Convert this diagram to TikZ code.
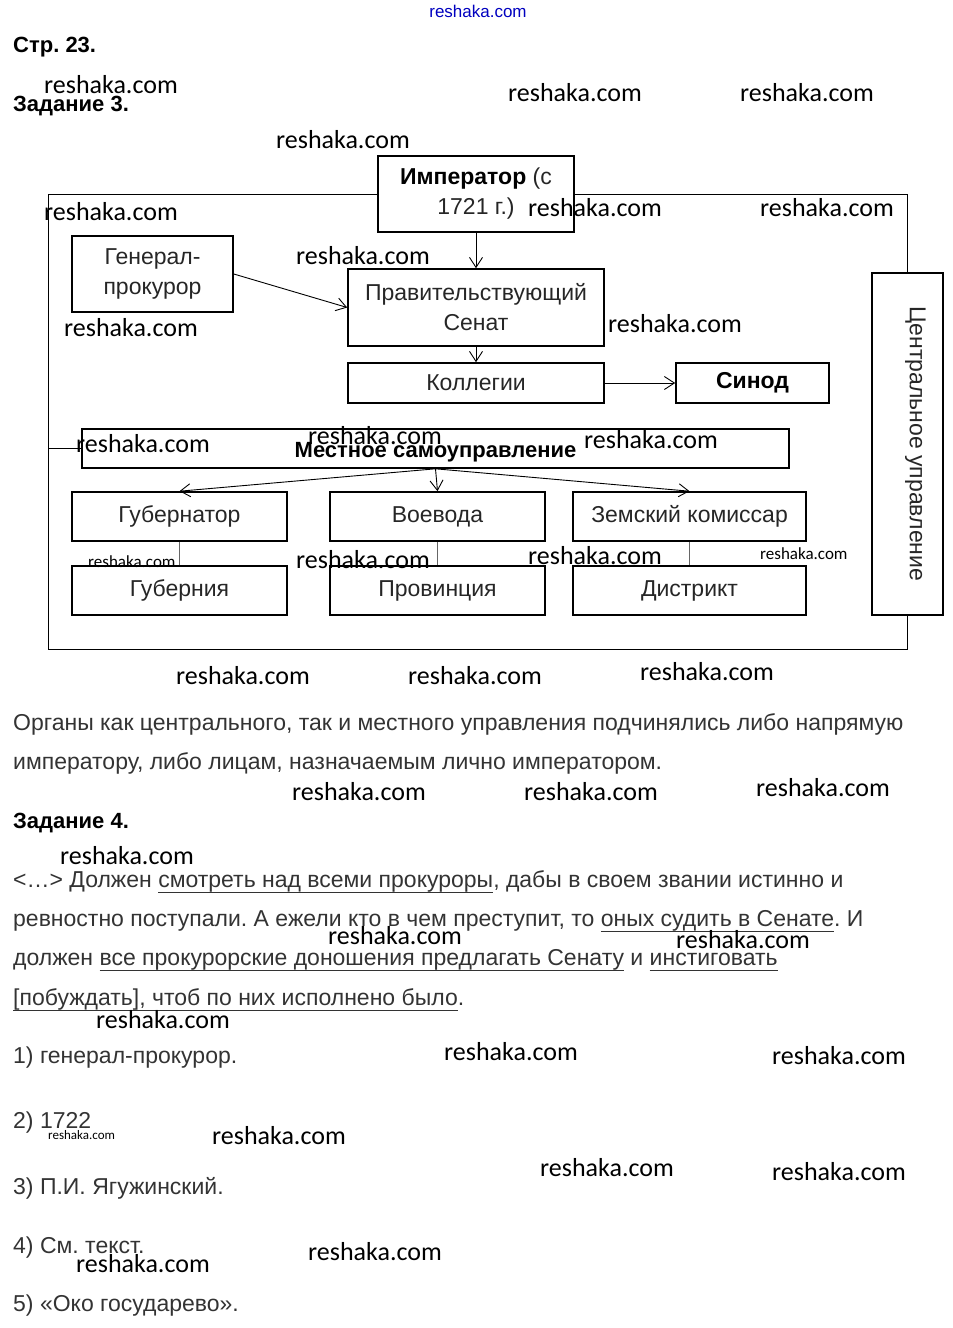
\documentclass[tikz,border=0pt]{standalone}
\usepackage{fontspec}
\setmainfont{Liberation Sans}
\newfontfamily\wmfont{Carlito}
\newcommand\ulined[1]{\setbox0\hbox{#1}\rlap{\rule[-6pt]{\wd0}{1.5pt}}\box0{}}
\frenchspacing
\usetikzlibrary{arrows.meta}

\begin{document}
\begin{tikzpicture}[x=1pt, y=-1pt,
    box/.style={draw=black, line width=1.6pt, inner sep=0pt, align=center, text=black!85, font=\fontsize{23}{30}\selectfont},
    link/.style={-{Straight Barb[length=10pt,width=13pt]}, line width=0.9pt},
    tie/.style={line width=0.9pt, draw=black!60},
    frame/.style={line width=0.9pt},
    body/.style={anchor=base west, inner sep=0pt, text=black!80, font=\fontsize{23}{26}\selectfont},
    head/.style={anchor=base west, inner sep=0pt, font=\bfseries\fontsize{22}{26}\selectfont},
    wm/.style={anchor=base west, inner sep=0pt, font=\wmfont\fontsize{26}{26}\selectfont}]
    \useasboundingbox (0,0) rectangle (953,1328);

    % Headings
    \node[anchor=base, inner sep=0pt, text=blue!75!black, font=\fontsize{17}{17}\selectfont] (site) at (478,17) {reshaka.com};
    \node[head] (page) at (13,52) {Стр. 23.};
    \node[head] (task3) at (13,111) {Задание 3.};

    % Nodes
    \node[box, minimum width=196pt, minimum height=76pt] (emp) at (476,194) {{\color{black}\bfseries Император} (с\\1721 г.)};
    \node[box, minimum width=161pt, minimum height=76pt] (gen) at (152.5,274) {Генерал-\\прокурор};
    \node[box, minimum width=256pt, minimum height=77pt] (sen) at (476,307.5) {Правительствующий\\Сенат};
    \node[box, minimum width=256pt, minimum height=40pt] (kol) at (476,383) {Коллегии};
    \node[box, minimum width=153pt, minimum height=40pt, text=black, font=\bfseries\fontsize{23}{30}\selectfont] (sin) at (752.5,383) {Синод};
    \node[box, minimum width=707pt, minimum height=39pt, text=black, font=\bfseries\fontsize{22}{30}\selectfont] (mest) at (435.5,448.5) {\raisebox{-4pt}[\height][\depth]{Местное самоуправление}};
    \node[box, minimum width=215pt, minimum height=49pt] (gub) at (179.5,516.5) {Губернатор};
    \node[box, minimum width=215pt, minimum height=49pt] (voe) at (437.5,516.5) {Воевода};
    \node[box, minimum width=233pt, minimum height=49pt] (zem) at (689.5,516.5) {Земский комиссар};
    \node[box, minimum width=215pt, minimum height=49pt] (gbr) at (179.5,590.5) {Губерния};
    \node[box, minimum width=215pt, minimum height=49pt] (prv) at (437.5,590.5) {Провинция};
    \node[box, minimum width=233pt, minimum height=49pt] (dis) at (689.5,590.5) {Дистрикт};
    \node[box, minimum width=71pt, minimum height=342pt] (cen) at (907.5,444) {\hspace*{16pt}\rotatebox{-90}{Центральное управление}};
    \coordinate (fbl) at (48,649);
    \coordinate (fl) at (48,448.5);

    % Edges
    \draw[frame] (emp.west) -| (fbl) -| (cen.south);
    \draw[frame] (emp.east) -| (cen.north);
    \draw[frame] (fl) -- (mest.west);
    \draw[link] (emp.south) -- (sen.north);
    \draw[link] (gen.east) -- (sen.west);
    \draw[link] (sen.south) -- (kol.north);
    \draw[link] (kol.east) -- (sin.west);
    \draw[link] (mest.south) -- (gub.north);
    \draw[link] (mest.south) -- (voe.north);
    \draw[link] (mest.south) -- (zem.north);
    \draw[tie] (gub.south) -- (gbr.north);
    \draw[tie] (voe.south) -- (prv.north);
    \draw[tie] (zem.south) -- (dis.north);

    % Text below
    \node[body] (t1) at (13,730) {Органы как центрального, так и местного управления подчинялись либо напрямую};
    \node[body] (t2) at (13,769) {императору, либо лицам, назначаемым лично императором.};
    \node[head] (task4) at (13,828) {Задание 4.};
    \node[body] (q1) at (13,887) {<…> Должен \ulined{смотреть над всеми прокуроры}, дабы в своем звании истинно и};
    \node[body] (q2) at (13,926) {ревностно поступали. А ежели кто в чем преступит, то \ulined{оных судить в Сенате}. И};
    \node[body] (q3) at (13,965) {должен \ulined{все прокурорские доношения предлагать Сенату} и \ulined{инстиговать}};
    \node[body] (q4) at (13,1005) {\ulined{[побуждать], чтоб по них исполнено было}.};
    \node[body] (a1) at (13,1063) {1) генерал-прокурор.};
    \node[body] (a2) at (13,1128) {2) 1722};
    \node[body] (a3) at (13,1194) {3) П.И. Ягужинский.};
    \node[body] (a4) at (13,1253) {4) См. текст.};
    \node[body] (a5) at (13,1311) {5) «Око государево».};

    % Watermarks
    \foreach \px/\py [count=\i] in {44/93, 508/101, 740/101, 276/148, 44/220, 528/216, 760/216,
        296/264, 64/336, 608/332, 76/452, 308/444, 584/448, 296/568, 528/564,
        176/684, 408/684, 640/680, 292/800, 524/800, 756/796, 60/864, 328/944,
        676/948, 96/1028, 444/1060, 772/1064, 212/1144, 540/1176, 772/1180,
        76/1272, 308/1260}
        \node[wm] (wm\i) at (\px,\py) {reshaka.com};
    \node[wm, font=\wmfont\fontsize{17}{17}\selectfont] (ws1) at (88,567) {reshaka.com};
    \node[wm, font=\wmfont\fontsize{17}{17}\selectfont] (ws2) at (760,559) {reshaka.com};
    \node[wm, font=\wmfont\fontsize{13}{13}\selectfont] (ws3) at (48,1139) {reshaka.com};
\end{tikzpicture}
\end{document}
